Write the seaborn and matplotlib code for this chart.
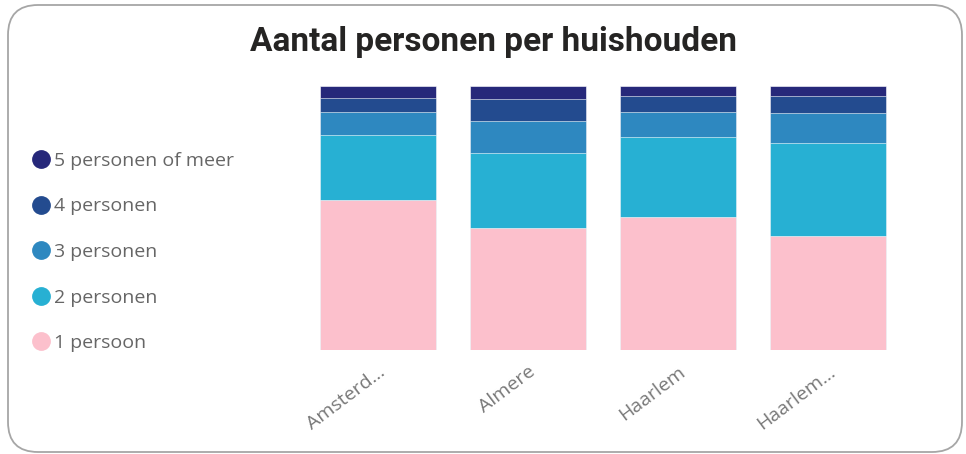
import pandas as pd
import seaborn as sns
import matplotlib.pyplot as plt
from matplotlib.lines import Line2D
from matplotlib.patches import FancyBboxPatch

# Data (shares per household size)
gemeenten = ['Amsterd...', 'Almere', 'Haarlem', 'Haarlem...']
een_persoon = [56.8, 46.1, 50.4, 43.3]
twee_personen = [24.6, 28.4, 30.4, 35.2]
drie_personen = [8.7, 12.2, 9.3, 11.4]
vier_personen = [5.4, 8.2, 6.2, 6.4]
vijf_of_meer = [4.4, 5.1, 3.7, 3.7]

series = ['1 persoon', '2 personen', '3 personen', '4 personen', '5 personen of meer']
colors = ['#fcc0cc', '#27b0d3', '#2e88c0', '#234b8f', '#26287a']

df = pd.DataFrame({
    'gemeente': gemeenten,
    '1 persoon': een_persoon,
    '2 personen': twee_personen,
    '3 personen': drie_personen,
    '4 personen': vier_personen,
    '5 personen of meer': vijf_of_meer,
})
# 100% stacked: normalise and cumulate
totals = df[series].sum(axis=1)
cum = df[series].div(totals, axis=0).cumsum(axis=1)
cum['gemeente'] = df['gemeente']

sns.set_style('white')
plt.rcParams['font.family'] = ['Open Sans', 'DejaVu Sans']

fig = plt.figure(figsize=(9.66, 4.54), dpi=100)
ax = fig.add_axes([0.3137, 0.229, 0.621, 0.5815])

# draw from the tallest cumulative layer down
for name, col in reversed(list(zip(series, colors))):
    sns.barplot(data=cum, x='gemeente', y=name, color=col, width=0.773,
                saturation=1, ax=ax, edgecolor='white', linewidth=0.4)

ax.set_xlim(-0.5, 3.5)
ax.set_ylim(0, 1)
ax.set_xlabel('')
ax.set_ylabel('')
ax.set_yticks([])
ax.tick_params(axis='x', length=0, pad=9, labelsize=14, labelcolor='#787878')
for lbl in ax.get_xticklabels():
    lbl.set_rotation(37)
    lbl.set_ha('right')
    lbl.set_rotation_mode('anchor')
    lbl.set_x(lbl.get_position()[0] - 0.02)
sns.despine(ax=ax, left=True, bottom=True)

# legend, top entry = largest household
handles = [Line2D([0], [0], marker='o', linestyle='', markersize=12.5,
                  markerfacecolor=c, markeredgecolor=c)
           for c in reversed(colors)]
fig.legend(handles, list(reversed(series)), loc='center left',
           bbox_to_anchor=(0.033, 0.445), frameon=False, fontsize=14,
           labelcolor='#666666', handlelength=0.96, handletextpad=0.2,
           labelspacing=1.42, borderpad=0, borderaxespad=0)

fig.text(0.511, 0.907, 'Aantal personen per huishouden', ha='center',
         va='center', fontsize=24, fontweight='bold', color='#252423',
         family=['Roboto', 'DejaVu Sans'])

# card border
card = FancyBboxPatch((0.08, 0.02), 9.54, 4.47,
                      boxstyle='round,pad=0,rounding_size=0.3',
                      transform=fig.dpi_scale_trans, facecolor='none',
                      edgecolor='#a6a6a6', linewidth=1.3)
fig.patches.append(card)

fig.savefig('out.png', dpi=100)
